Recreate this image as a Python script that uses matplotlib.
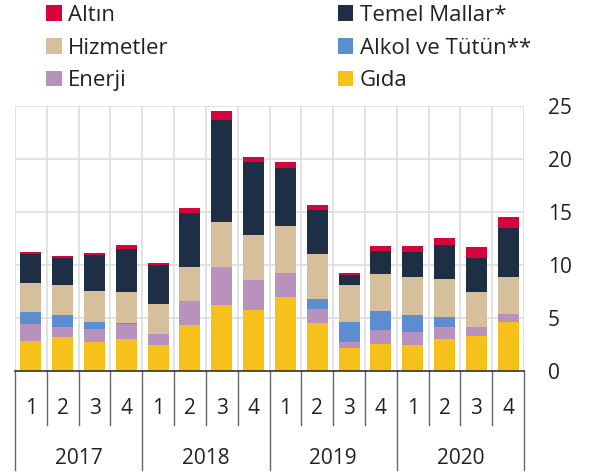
import numpy as np
import matplotlib
matplotlib.use("Agg")
import matplotlib.pyplot as plt
from matplotlib.patches import Patch

plt.rcParams['font.family'] = ['Open Sans', 'DejaVu Sans']

# quarters 2017Q1 .. 2020Q4
quarters = ["1", "2", "3", "4"] * 4
years = ["2017", "2018", "2019", "2020"]

gida = [2.86, 3.18, 2.74, 2.99, 2.42, 4.37, 6.23, 5.75, 6.95, 4.56, 2.20, 2.52, 2.45, 3.05, 3.33, 4.65]
enerji = [1.57, 0.94, 1.25, 1.41, 1.10, 2.20, 3.61, 2.83, 2.26, 1.29, 0.57, 1.35, 1.20, 1.07, 0.79, 0.70]
alkol = [1.17, 1.13, 0.60, 0.10, 0.00, 0.00, 0.00, 0.00, 0.00, 0.91, 1.82, 1.82, 1.63, 1.01, 0.00, 0.00]
hizmetler = [2.67, 2.86, 2.99, 2.92, 2.77, 3.27, 4.19, 4.25, 4.47, 4.28, 3.52, 3.46, 3.62, 3.55, 3.36, 3.55]
temel = [2.73, 2.52, 3.33, 4.12, 3.71, 5.10, 9.65, 6.92, 5.47, 4.15, 0.92, 2.17, 2.36, 3.21, 3.21, 4.62]
altin = [0.26, 0.25, 0.25, 0.32, 0.19, 0.41, 0.82, 0.47, 0.54, 0.47, 0.18, 0.50, 0.56, 0.66, 1.01, 1.01]

# stacking order bottom -> top
series = [
    ("Gıda", gida, "#f6c11a"),
    ("Enerji", enerji, "#b892bd"),
    ("Alkol ve Tütün**", alkol, "#5b8dd0"),
    ("Hizmetler", hizmetler, "#d6bf9d"),
    ("Temel Mallar*", temel, "#1d2e45"),
    ("Altın", altin, "#d6043a"),
]
colors = {name: c for name, vals, c in series}

fig = plt.figure(figsize=(5.89, 4.75), dpi=100)
ax = fig.add_axes([15 / 589, 1 - 371 / 475, (524 - 15) / 589, (371 - 106) / 475])

x = np.arange(len(quarters))
bottom = np.zeros(len(quarters))
for name, vals, c in series:
    ax.bar(x, vals, width=0.66, bottom=bottom, color=c, zorder=3, linewidth=0)
    bottom += np.array(vals)

ax.set_xlim(-0.5, len(quarters) - 0.5)
ax.set_ylim(0, 25)
ax.set_yticks([0, 5, 10, 15, 20, 25])
for y in [5, 10, 15, 20, 25]:
    ax.axhline(y, color="#dddddd", lw=1.2, zorder=1)
for xv in np.arange(-0.5, len(quarters), 1.0):
    ax.axvline(xv, color="#dddddd", lw=1.2, zorder=1)

for s in ["top", "left", "right"]:
    ax.spines[s].set_visible(False)
ax.spines["bottom"].set_color("#333333")
ax.spines["bottom"].set_linewidth(1.2)
ax.spines["bottom"].set_zorder(4)

ax.yaxis.tick_right()
ax.tick_params(axis="y", length=0, pad=17, labelsize=15, labelcolor="#222222")
ax.set_xticks([])

# category axis below the plot
trans = ax.get_xaxis_transform()
for xv in np.arange(-0.5, len(quarters), 1.0):
    if int(xv + 0.5) % 4 == 0:
        ax.plot([xv, xv], [0, -0.375], color="#666666", lw=1.0, transform=trans, clip_on=False)
    else:
        ax.plot([xv, xv], [0, -0.205], color="#666666", lw=1.0, transform=trans, clip_on=False)
for i, q in enumerate(quarters):
    ax.text(i, -0.14, q, transform=trans, ha="center", va="center", fontsize=15, color="#222222")
for j, yr in enumerate(years):
    ax.text(4 * j + 1.5, -0.33, yr, transform=trans, ha="center", va="center", fontsize=15, color="#222222")

legend_order = ["Altın", "Hizmetler", "Enerji", "Temel Mallar*", "Alkol ve Tütün**", "Gıda"]
handles = [Patch(facecolor=colors[n], edgecolor="none", label=n) for n in legend_order]
fig.legend(handles=handles, ncol=2, loc="upper left", bbox_to_anchor=(46 / 589, 1 - 5 / 475),
           frameon=False, fontsize=16, handlelength=0.7, handleheight=0.7,
           handletextpad=0.3, labelspacing=0.52, columnspacing=7.6, borderaxespad=0.0,
           borderpad=0.0, labelcolor="#222222")

fig.savefig("out.png", dpi=100)
